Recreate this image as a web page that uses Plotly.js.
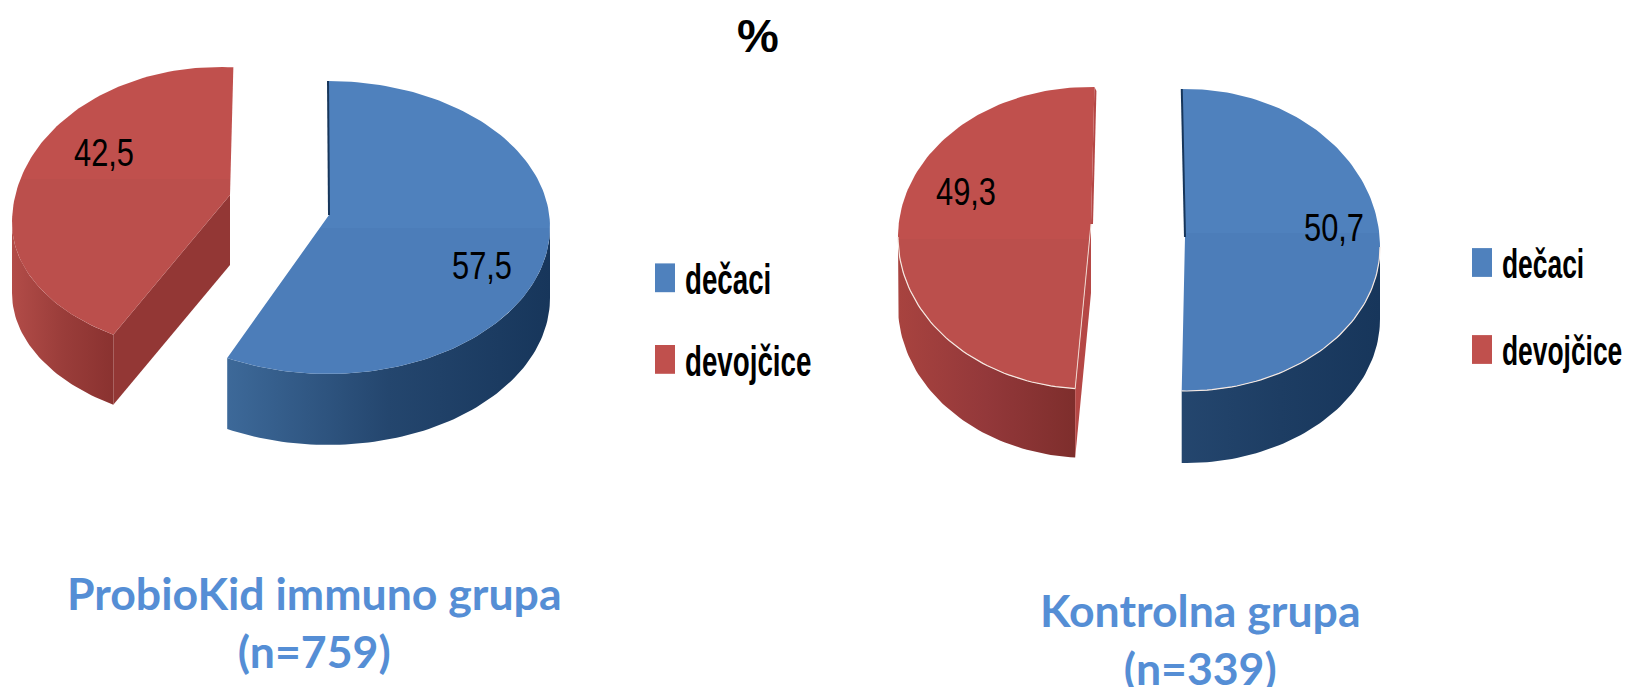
<!DOCTYPE html>
<html><head><meta charset="utf-8">
<script src="https://cdn.plot.ly/plotly-3.0.1.min.js"></script>
<style>
html,body{margin:0;padding:0;background:#fff;overflow:hidden}
#chart{width:1627px;height:687px}
.legendpoints path{transform:translate(20px,0) scale(1.25,1.8)}
.textpoint text{transform-box:fill-box;transform-origin:center;transform:scaleX(.79)}
.legendtext,.legend2text{transform-box:fill-box;transform-origin:0 50%;transform:scaleX(.66)}
</style></head><body><div id="chart"></div>
<script>
// ---- data ----
const seriesNames = ['dečaci', 'devojčice'];
const probioKidValues = [57.5, 42.5];
const kontrolnaValues = [50.7, 49.3];
const groupTitles = ['ProbioKid immuno grupa<br>(n=759)', 'Kontrolna grupa<br>(n=339)'];
const chartTitle = '%';

// ---- styles ----
const BLUE = '#4f81bd', RED = '#c0504d';
const BLUE_SOFT = '#4c7db9', RED_SOFT = '#bb4f4c';
const WALL_BLUE = ['#3d6999', '#24466e', '#17365b'];
const WALL_RED = ['#b24c48', '#9a3d3a', '#8a3230'];
const TITLE_BLUE = '#558ed5';
const LABEL_FONT = '"Liberation Sans",sans-serif';

// ---- slice projection (pixel-like hidden axes) ----
const layoutA = {
  blue: {start: 0, cx: 328, cy: 227, rx: 222, ryBack: 146, ryFront: 147, depth: 71, apex: [329, 215], labelAt: [482, 269]},
  red: {start: 210.8, cx: 219.6, cy: 223, rx: 207.6, ryBack: 156, ryFront: 130, depth: 70, apex: [230, 195], labelAt: [104, 156], cutWall: true}
};
const layoutB = {
  blue: {start: -1.25, cx: 1186, cy: 247, rx: 194, ryBack: 158, ryFront: 144, depth: 72, apex: [1185, 237], labelAt: [1334, 231], edge: true},
  red: {start: 184.15, cx: 1089, cy: 237, rx: 191, ryBack: 150, ryFront: 152, depth: 69, apex: [1091, 224], labelAt: [966, 195], cutWall: true, edge: true, sliver: true}
};

function pt(g, deg) {
  const t = deg * Math.PI / 180, c = Math.cos(t);
  return [g.cx + g.rx * Math.sin(t), g.cy - (c > 0 ? g.ryBack : g.ryFront) * c];
}
function arc(g, a, b) {
  const out = [], n = Math.max(2, Math.ceil(Math.abs(b - a) / 1.5));
  for (let i = 0; i <= n; i++) out.push(pt(g, a + (b - a) * i / n));
  return out;
}
function poly(points, extra) {
  return Object.assign({
    x: points.map(p => p[0]), y: points.map(p => p[1]),
    mode: 'lines', fill: 'toself', line: {width: 0, color: 'rgba(0,0,0,0)'},
    hoverinfo: 'skip', showlegend: false
  }, extra);
}
function stroke(points, color, width) {
  return {x: points.map(p => p[0]), y: points.map(p => p[1]), mode: 'lines',
    line: {color: color, width: width}, hoverinfo: 'skip', showlegend: false};
}
function hGrad(cols) {
  return {type: 'horizontal', colorscale: cols.map((c, i) => [i / (cols.length - 1), c])};
}
function sliceTraces(value, g, face, soft, wall, dark) {
  const end = g.start + value * 3.6, tr = [];
  const from = Math.max(g.start, 90), to = Math.min(end, 270);
  const top = arc(g, from, to);
  const low = top.map(p => [p[0], p[1] + g.depth]).reverse();
  tr.push(poly(top.concat(low), {fillgradient: hGrad(wall)}));
  if (g.cutWall) {
    const s = pt(g, g.start), a = g.apex;
    tr.push(poly([a, s, [s[0], s[1] + g.depth], [a[0], a[1] + g.depth]], {fillcolor: g.sliver ? '#b54745' : '#933735'}));
  }
  const faceArc = arc(g, g.start, end);
  const ys = faceArc.map(p => p[1]).concat(g.apex[1]);
  const lo = Math.min.apply(null, ys), hi = Math.max.apply(null, ys);
  const f = (g.cy - lo) / (hi - lo);
  if (g.sliver) {
    const tp = pt(g, end);
    tr.push(poly([tp, [tp[0] + 2, tp[1] + 4], [g.apex[0] + 2, g.apex[1]], g.apex], {fillcolor: '#b54745'}));
  }
  tr.push(poly(faceArc.concat([g.apex]), {fillgradient: {type: 'vertical',
    colorscale: [[0, soft], [f, soft], [f, face], [1, face]]}}));
  if (dark) tr.push(stroke([pt(g, g.start), g.apex], dark, 2));
  if (g.edge) {
    const fr = arc(g, Math.max(g.start, 90), Math.min(end, 270));
    tr.push(stroke(fr, '#f6e9e2', 1.2));
    if (g.cutWall) tr.push(stroke([pt(g, g.start), g.apex], '#f0d8d0', 1));
  }
  return tr;
}
function labelTrace(values, gs) {
  return {x: gs.map(g => g.labelAt[0]), y: gs.map(g => g.labelAt[1]), mode: 'text',
    text: values.map(v => v.toFixed(1).replace('.', ',')), textposition: 'middle center',
    textfont: {family: LABEL_FONT, size: 39, color: '#000'}, hoverinfo: 'skip', showlegend: false};
}
function legendTrace(name, color, legendId) {
  return {x: [null], y: [null], mode: 'markers', name: name, legend: legendId, legendgroup: legendId + name,
    marker: {symbol: 'square', size: 16, color: color}, showlegend: true, hoverinfo: 'skip'};
}

const traces = [].concat(
  sliceTraces(probioKidValues[1], layoutA.red, RED, RED_SOFT, WALL_RED),
  sliceTraces(probioKidValues[0], layoutA.blue, BLUE, BLUE_SOFT, WALL_BLUE, '#17365b'),
  sliceTraces(kontrolnaValues[1], layoutB.red, RED, RED_SOFT, ['#a8433f', '#93383a', '#7e2e2c']),
  sliceTraces(kontrolnaValues[0], layoutB.blue, BLUE, BLUE_SOFT, ['#24466e', '#1d3d63', '#17365b'], '#17365b'),
  [labelTrace(probioKidValues, [layoutA.blue, layoutA.red]),
   labelTrace(kontrolnaValues, [layoutB.blue, layoutB.red]),
   legendTrace(seriesNames[0], BLUE, 'legend'), legendTrace(seriesNames[1], RED, 'legend'),
   legendTrace(seriesNames[0], BLUE, 'legend2'), legendTrace(seriesNames[1], RED, 'legend2')]
);

const hidden = {visible: false, fixedrange: true};
const legendBase = {bgcolor: 'rgba(0,0,0,0)', borderwidth: 0, itemwidth: 30, xanchor: 'left', yanchor: 'top',
  itemclick: false, itemdoubleclick: false, entrywidthmode: 'pixels'};
const layout = {
  width: 1627, height: 687, margin: {l: 0, r: 0, t: 0, b: 0, pad: 0, autoexpand: false},
  paper_bgcolor: '#fff', plot_bgcolor: '#fff', showlegend: true,
  xaxis: Object.assign({range: [0, 1627]}, hidden),
  yaxis: Object.assign({range: [687, 0]}, hidden),
  title: {text: chartTitle, font: {family: '"Liberation Sans",sans-serif', size: 47, color: '#000', weight: 700},
    x: 758 / 1627, xanchor: 'center', y: 1 - 36 / 687, yanchor: 'middle'},
  legend: Object.assign({x: 645 / 1627, y: 1 - 244 / 687, tracegroupgap: 24, entrywidth: 130,
    font: {family: LABEL_FONT, size: 42, color: '#000', weight: 700}}, legendBase),
  legend2: Object.assign({x: 1462 / 1627, y: 1 - 230 / 687, tracegroupgap: 32, entrywidth: 122,
    font: {family: LABEL_FONT, size: 40, color: '#000', weight: 700}}, legendBase),
  annotations: [
    {text: groupTitles[0], xref: 'x', yref: 'y', x: 314, y: 621, showarrow: false, align: 'center',
     font: {family: 'Lato,sans-serif', size: 44.6, color: TITLE_BLUE, weight: 700}},
    {text: groupTitles[1], xref: 'x', yref: 'y', x: 1200, y: 638, showarrow: false, align: 'center',
     font: {family: 'Lato,sans-serif', size: 44.6, color: TITLE_BLUE, weight: 700}}
  ]
};
Plotly.newPlot('chart', traces, layout, {displayModeBar: false});
</script></body></html>
